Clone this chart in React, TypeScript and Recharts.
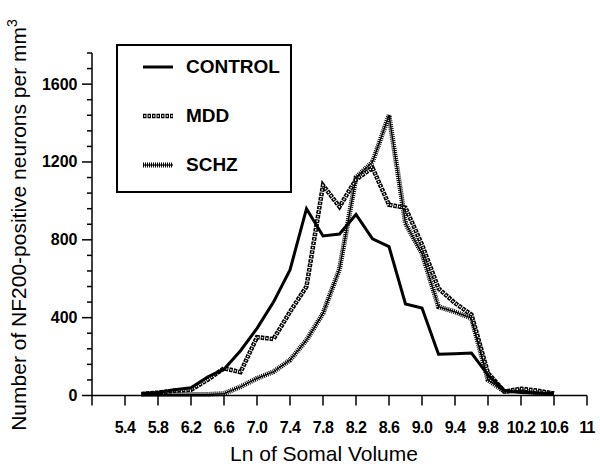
import React from 'react';
import { LineChart, Line, XAxis, YAxis, Label } from 'recharts';

const xValues = [5.6, 5.8, 6.0, 6.2, 6.4, 6.6, 6.8, 7.0, 7.2, 7.4, 7.6, 7.8, 8.0, 8.2, 8.4, 8.6, 8.8, 9.0, 9.2, 9.4, 9.6, 9.8, 10.0, 10.2, 10.4, 10.6];
const controlValues = [10, 15, 30, 40, 95, 135, 230, 345, 480, 645, 960, 820, 830, 930, 805, 765, 470, 450, 212, 215, 218, 105, 25, 15, 12, 10];
const mddValues = [8, 15, 25, 30, 80, 140, 120, 300, 290, 430, 560, 1080, 970, 1110, 1170, 980, 965, 775, 550, 475, 415, 115, 20, 35, 25, 10];
const schzValues = [5, 5, 5, 5, 5, 10, 45, 88, 122, 182, 285, 422, 650, 1120, 1200, 1440, 885, 730, 456, 430, 397, 80, 20, 25, 15, 10];

const xTicks = [5, 5.4, 5.8, 6.2, 6.6, 7.0, 7.4, 7.8, 8.2, 8.6, 9.0, 9.4, 9.8, 10.2, 10.6, 11];
const xTickLabels = ['', '5.4', '5.8', '6.2', '6.6', '7.0', '7.4', '7.8', '8.2', '8.6', '9.0', '9.4', '9.8', '10.2', '10.6', '11'];
const yTicks = [0, 80, 160, 240, 320, 400, 480, 560, 640, 720, 800, 880, 960, 1040, 1120, 1200, 1280, 1360, 1440, 1520, 1600, 1680, 1760];
const yMajorTicks = [0, 400, 800, 1200, 1600];

const seriesNames = ['CONTROL', 'MDD', 'SCHZ'];

const data = xValues.map((x, i) => ({
  x,
  control: controlValues[i],
  mdd: mddValues[i],
  schz: schzValues[i],
}));

const FONT = 'Liberation Sans, Arial, Helvetica, sans-serif';

function YTick(props: any) {
  const { x, y, payload } = props;
  const major = yMajorTicks.includes(payload.value);
  return (
    <g>
      <line x1={x - (major ? 10 : 5)} x2={x} y1={y} y2={y} stroke="#000" strokeWidth={1.5} />
      {major && (
        <text x={x - 14.5} y={y} textAnchor="end" dominantBaseline="central" fontFamily={FONT} fontWeight="bold" fontSize={16} fill="#000">
          {payload.value}
        </text>
      )}
    </g>
  );
}

function xFormat(v: number) {
  const i = xTicks.indexOf(v);
  return i >= 0 ? xTickLabels[i] : '';
}

function SampleLine({ kind }: { kind: string }) {
  return (
    <svg width={32} height={12} style={{ display: 'block' }}>
      {kind === 'CONTROL' && <line x1={1} x2={31} y1={6} y2={6} stroke="#000" strokeWidth={3} />}
      {kind === 'MDD' && (
        <g>
          <line x1={1} x2={31} y1={6} y2={6} stroke="#000" strokeWidth={4.5} strokeDasharray="3.5 1" />
          <line x1={1} x2={31} y1={6} y2={6} stroke="#fff" strokeWidth={1.4} strokeDasharray="1.5 3" strokeDashoffset={-1} />
        </g>
      )}
      {kind === 'SCHZ' && (
        <g>
          <line x1={1} x2={31} y1={6} y2={6} stroke="#000" strokeWidth={5} strokeDasharray="1 1" />
          <line x1={1} x2={31} y1={6} y2={6} stroke="#000" strokeWidth={1.2} />
        </g>
      )}
    </svg>
  );
}

const legendRowCenters = [21, 70, 119];

export default function App() {
  return (
    <div style={{ position: 'absolute', left: 0, top: 0, width: 600, height: 474, background: '#fff' }}>
      <LineChart width={600} height={474} data={data} margin={{ top: 53, right: 13, bottom: 0, left: 0 }}>
        <XAxis
          dataKey="x"
          type="number"
          domain={[5, 11]}
          ticks={xTicks}
          interval={0}
          tickFormatter={xFormat}
          height={78.5}
          tickSize={10}
          tickMargin={16}
          axisLine={{ stroke: '#000', strokeWidth: 1.5 }}
          tickLine={{ stroke: '#000', strokeWidth: 1.5 }}
          tick={{ fill: '#000', fontFamily: FONT, fontWeight: 'bold', fontSize: 16, letterSpacing: -0.6 }}
        >
          <Label
            content={() => (
              <text x={324} y={461} textAnchor="middle" fontFamily={FONT} fontSize={21} fill="#000">
                Ln of Somal Volume
              </text>
            )}
          />
        </XAxis>
        <YAxis
          type="number"
          domain={[0, 1760]}
          ticks={yTicks}
          interval={0}
          width={92}
          tickSize={0}
          tickMargin={0}
          tickLine={false}
          axisLine={{ stroke: '#000', strokeWidth: 1.5 }}
          tick={<YTick />}
        >
          <Label
            content={() => (
              <text x={26} y={225} transform="rotate(-90, 26, 225)" textAnchor="middle" fontFamily={FONT} fontSize={21} fill="#000">
                Number of NF200-positive neurons per mm
                <tspan dy={-9} fontSize={14}>3</tspan>
              </text>
            )}
          />
        </YAxis>
        <Line key="schz-base" dataKey="schz" type="linear" stroke="#000" strokeWidth={5} strokeDasharray="1 1" dot={false} activeDot={false} isAnimationActive={false} />
        <Line key="schz-core" dataKey="schz" type="linear" stroke="#000" strokeWidth={1.2} dot={false} activeDot={false} isAnimationActive={false} />
        <Line key="mdd-base" dataKey="mdd" type="linear" stroke="#000" strokeWidth={4.5} strokeDasharray="3.5 1" dot={false} activeDot={false} isAnimationActive={false} />
        <Line key="mdd-core" dataKey="mdd" type="linear" stroke="#fff" strokeWidth={1.4} strokeDasharray="1.5 3" strokeDashoffset={-1} dot={false} activeDot={false} isAnimationActive={false} />
        <Line key="control" dataKey="control" type="linear" stroke="#000" strokeWidth={3} dot={false} activeDot={false} isAnimationActive={false} />
      </LineChart>
      <div
        style={{
          position: 'absolute',
          left: 116,
          top: 44,
          width: 172,
          height: 145,
          border: '2px solid #000',
          background: '#fff',
        }}
      >
        {seriesNames.map((name, i) => (
          <div
            key={name}
            style={{
              position: 'absolute',
              left: 0,
              top: legendRowCenters[i] - 12,
              height: 24,
              display: 'flex',
              alignItems: 'center',
            }}
          >
            <div style={{ position: 'absolute', left: 24, top: 6 }}>
              <SampleLine kind={name} />
            </div>
            <span
              style={{
                position: 'absolute',
                left: 68,
                top: 0,
                lineHeight: '24px',
                fontFamily: FONT,
                fontWeight: 'bold',
                fontSize: 19,
                color: '#000',
                whiteSpace: 'nowrap',
              }}
            >
              {name}
            </span>
          </div>
        ))}
      </div>
    </div>
  );
}
